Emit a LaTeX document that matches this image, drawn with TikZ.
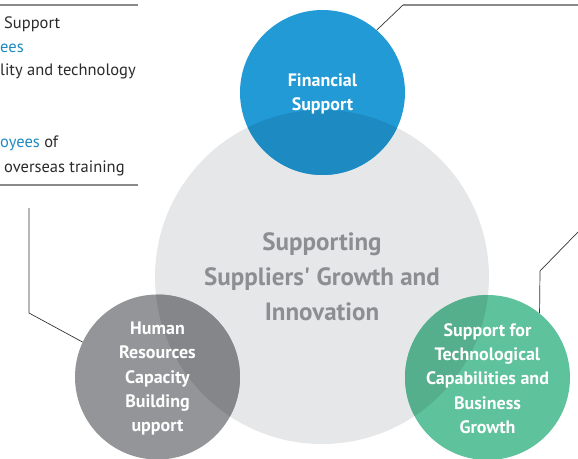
\documentclass[tikz,border=0pt]{standalone}
\usepackage{fontspec}
\setmainfont{PT Sans}
\usetikzlibrary{calc}
\definecolor{coregray}{HTML}{E6E7E8}
\definecolor{coretext}{HTML}{8D8E91}
\definecolor{finblue}{HTML}{219AD6}
\definecolor{finbluedark}{HTML}{1D8AC1}
\definecolor{hrgray}{HTML}{939598}
\definecolor{hrgraydark}{HTML}{84868A}
\definecolor{techgreen}{HTML}{5EC29C}
\definecolor{techgreendark}{HTML}{55AF8C}
\definecolor{rulegray}{HTML}{8A8A8A}
\definecolor{leaderdark}{HTML}{333333}
\definecolor{panelink}{HTML}{2A2A2A}
\definecolor{panelblue}{HTML}{1E8BC3}
\tikzset{
  bubble/.style={circle, inner sep=0pt, minimum size=165pt},
  bubbletext/.style={text=white, align=center, font=\bfseries\fontsize{18}{24.3}\selectfont},
  coretxt/.style={text=coretext, align=center, font=\bfseries\fontsize{25}{35}\selectfont},
  panelrule/.style={line width=1.6pt, color=rulegray},
  leader/.style={line width=0.7pt, color=leaderdark},
  paneltext/.style={anchor=base west, inner sep=0pt, text=panelink, font=\fontsize{16.5}{18}\selectfont},
}

\begin{document}
\begin{tikzpicture}[x=1pt, y=-1pt]
%%%%% START %%%%%
\useasboundingbox (0,0) rectangle (578,458);

% circles
\node[circle, inner sep=0pt, minimum size=334pt, fill=coregray] (core) at (322,277) {};
\node[bubble, fill=finblue, path picture={\fill[finbluedark] (core.center) circle (167pt);}] (fin) at (322.5,92.5) {};
\node[bubble, fill=hrgray, path picture={\fill[hrgraydark] (core.center) circle (167pt);}] (hr) at (157.5,377) {};
\node[bubble, fill=techgreen, path picture={\fill[techgreendark] (core.center) circle (167pt);}] (tech) at (487.5,377.5) {};

% labels
\node[coretxt] (corelbl) at (core) {Supporting\\Suppliers\textquotesingle\ Growth and\\Innovation};
\node[bubbletext] (finlbl) at ([yshift=-1.5pt]fin.center) {Financial\\Support};
\node[bubbletext] (hrlbl) at ([yshift=-1.5pt]hr.center) {Human\\Resources\\Capacity\\Building\\upport};
\node[bubbletext] (techlbl) at ([yshift=-1pt]tech.center) {Support for\\Technological\\Capabilities and\\Business\\Growth};

% left panel
\coordinate (paneltopl) at (0,5);
\coordinate (paneltopr) at (138,5);
\coordinate (panelbotl) at (0,185);
\coordinate (panelbotr) at (138,185);
\draw[panelrule] (paneltopl) -- (paneltopr);
\draw[panelrule] (panelbotl) -- (panelbotr);
\node[paneltext] (pl1) at (4,28) {Support};
\node[paneltext, text=panelblue] (pl2) at (0,52) {ees};
\node[paneltext] (pl3) at (0,75) {lity and technology};
\node[paneltext] (pl4) at (0,147) {\textcolor{panelblue}{oyees} of};
\node[paneltext] (pl5) at (4,172) {overseas training};

% leaders
\coordinate (finknee) at (403,5);
\coordinate (finend) at (578,5);
\draw[leader] (fin.49) -- (finknee);
\draw[panelrule] (finknee) -- (finend);

\coordinate (hrtop) at (29,208);
\coordinate (hrknee) at (29,313);
\draw[leader] (hrtop) -- (hrknee) -- (hr.155);

\coordinate (techknee) at (540,271);
\coordinate (techend) at (578,232);
\draw[leader] (tech.51) -- (techknee) -- (techend);
%%%%% END %%%%%
\end{tikzpicture}
\end{document}
